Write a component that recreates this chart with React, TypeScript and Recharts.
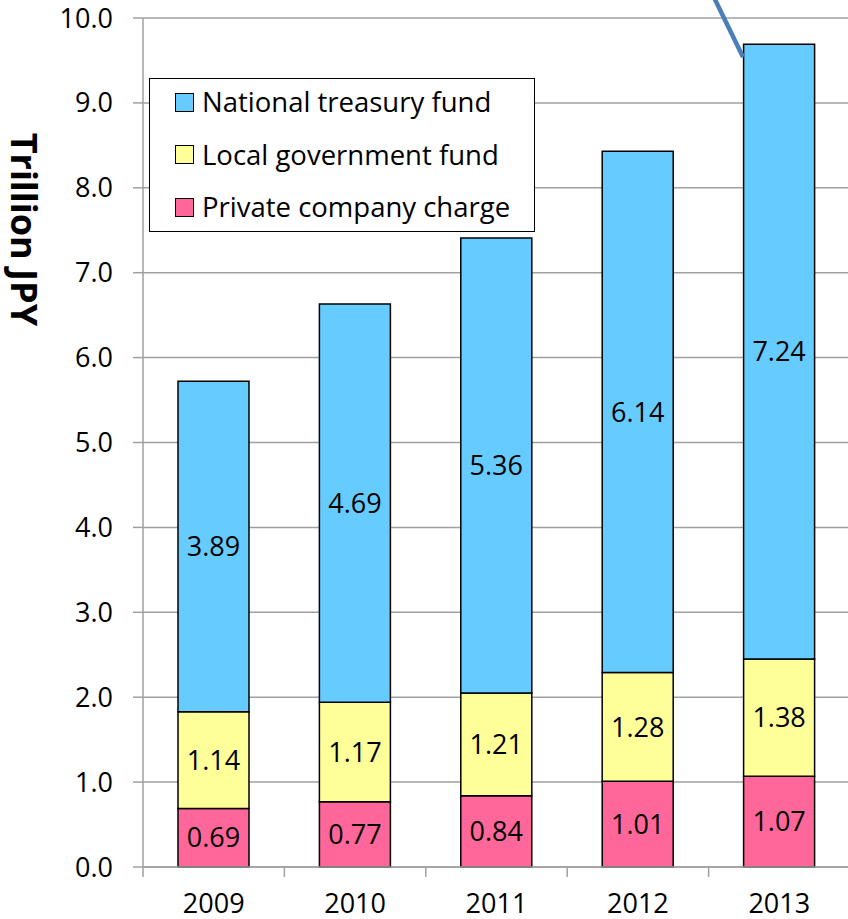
import React from 'react';
import {
  BarChart,
  Bar,
  XAxis,
  YAxis,
  CartesianGrid,
  Legend,
  LabelList,
  ReferenceLine,
  Label,
} from 'recharts';

const years = ['2009', '2010', '2011', '2012', '2013'];
const privateCharge = [0.69, 0.77, 0.84, 1.01, 1.07];
const localFund = [1.14, 1.17, 1.21, 1.28, 1.38];
const nationalFund = [3.89, 4.69, 5.36, 6.14, 7.24];
const yTicks = [0, 1, 2, 3, 4, 5, 6, 7, 8, 9, 10];

const seriesNames = ['National treasury fund', 'Local government fund', 'Private company charge'];
const seriesColors = ['#66CCFF', '#FFFF99', '#FF6699'];

// callout line (annotation) endpoints in data units (x measured in category slots)
const calloutX = [4.03, 4.243];
const calloutY = [10.27, 9.54];

const data = years.map((y, i) => ({
  year: y,
  privateCharge: privateCharge[i],
  localFund: localFund[i],
  nationalFund: nationalFund[i],
}));

const FONT = '"Open Sans", sans-serif';
const GRAY = '#a0a0a0';

const LegendBox = () => (
  <div
    style={{
      width: 386,
      height: 154,
      boxSizing: 'border-box',
      border: '1.5px solid #000',
      background: '#fff',
      fontFamily: FONT,
      fontSize: 27.5,
      color: '#000',
      overflow: 'hidden',
    }}
  >
    <div style={{ marginTop: -3 }}>
      {seriesNames.map((n, i) => (
        <div key={n} style={{ display: 'flex', alignItems: 'center', height: 52.5, paddingLeft: 25 }}>
          <div
            style={{
              width: 19,
              height: 19,
              boxSizing: 'border-box',
              border: '1.5px solid #000',
              background: seriesColors[i],
              marginRight: 8,
            }}
          />
          <span style={{ lineHeight: '30px' }}>{n}</span>
        </div>
      ))}
    </div>
  </div>
);

const YLabel = (props: any) => {
  const vb = props.viewBox || {};
  const cx = 24;
  const cy = vb.y + vb.height * 0.249;
  return (
    <text
      x={cx}
      y={cy}
      transform={`rotate(90, ${cx}, ${cy})`}
      textAnchor="middle"
      dominantBaseline="central"
      fontWeight="bold"
      fontSize={36}
      fill="#000"
      fontFamily={FONT}
    >
      Trillion JPY
    </text>
  );
};

// category tick: label at band centre, tick mark at band boundary (Excel style)
const CatTick = (props: any) => {
  const { x, y, payload } = props;
  const half = payload && payload.offset ? payload.offset : 0;
  const bx = x - half;
  return (
    <g>
      <line x1={bx} x2={bx} y1={y - 10} y2={y} stroke={GRAY} strokeWidth={1.5} />
      <text x={x} y={y + 35.5} textAnchor="middle" fill="#000" fontSize={27} fontFamily={FONT}>
        {payload.value}
      </text>
    </g>
  );
};

export default function App() {
  const tickStyle = { fill: '#000', fontSize: 27, fontFamily: FONT };
  return (
    <div style={{ position: 'absolute', left: 0, top: 0, width: 848, height: 919, overflow: 'hidden', background: '#fff' }}>
      <BarChart
        width={850}
        height={919}
        data={data}
        margin={{ top: 18, right: 0, bottom: 0, left: 0 }}
        style={{ fontFamily: FONT }}
      >
        <CartesianGrid vertical={false} stroke={GRAY} strokeWidth={1.5} xAxisId="cat" />
        <XAxis
          xAxisId="cat"
          dataKey="year"
          height={52}
          axisLine={{ stroke: GRAY, strokeWidth: 1.5 }}
          tickLine={false}
          tickSize={10}
          tickMargin={0}
          tick={<CatTick />}
        />
        <XAxis
          xAxisId="slot"
          dataKey="privateCharge"
          type="number"
          domain={[0, 5]}
          allowDataOverflow
          hide
        />
        <YAxis
          type="number"
          domain={[0, 10]}
          ticks={yTicks}
          width={143}
          tickSize={10}
          tickMargin={20}
          tickFormatter={(v: number) => v.toFixed(1)}
          axisLine={{ stroke: GRAY, strokeWidth: 1.5 }}
          tickLine={{ stroke: GRAY, strokeWidth: 1.5 }}
          tick={tickStyle}
        >
          <Label content={<YLabel />} />
        </YAxis>
        <Legend
          layout="vertical"
          align="center"
          verticalAlign="middle"
          content={() => <LegendBox />}
          wrapperStyle={{ position: 'absolute', left: 149, top: 78, width: 386, height: 154 }}
        />
        <Bar xAxisId="cat" dataKey="privateCharge" stackId="s" fill={seriesColors[2]} stroke="#000" strokeWidth={1.5} barSize={71} isAnimationActive={false}>
          <LabelList dataKey="privateCharge" position="center" fill="#000" fontSize={27} fontFamily={FONT} formatter={(v: number) => v.toFixed(2)} />
        </Bar>
        <Bar xAxisId="cat" dataKey="localFund" stackId="s" fill={seriesColors[1]} stroke="#000" strokeWidth={1.5} barSize={71} isAnimationActive={false}>
          <LabelList dataKey="localFund" position="center" fill="#000" fontSize={27} fontFamily={FONT} formatter={(v: number) => v.toFixed(2)} />
        </Bar>
        <Bar xAxisId="cat" dataKey="nationalFund" stackId="s" fill={seriesColors[0]} stroke="#000" strokeWidth={1.5} barSize={71} isAnimationActive={false}>
          <LabelList dataKey="nationalFund" position="center" fill="#000" fontSize={27} fontFamily={FONT} formatter={(v: number) => v.toFixed(2)} />
        </Bar>
        <ReferenceLine
          xAxisId="slot"
          segment={[
            { x: calloutX[0], y: calloutY[0] },
            { x: calloutX[1], y: calloutY[1] },
          ]}
          stroke="#4A7EBB"
          strokeWidth={4.5}
          style={{ strokeWidth: 4.5 }}
          ifOverflow="visible"
        />
      </BarChart>
    </div>
  );
}
